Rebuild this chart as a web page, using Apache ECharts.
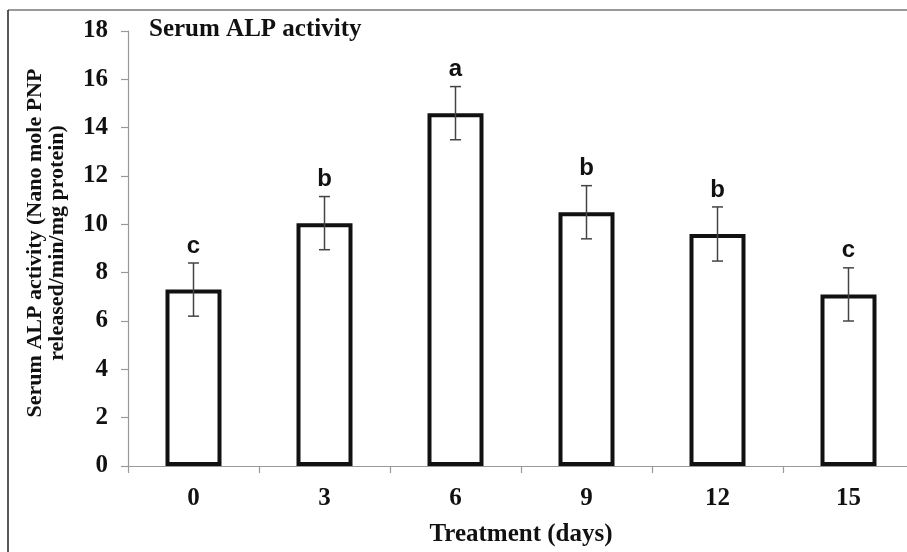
<!DOCTYPE html>
<html>
<head>
<meta charset="utf-8">
<title>Serum ALP activity</title>
<script src="https://cdn.jsdelivr.net/npm/echarts@6/dist/echarts.min.js"></script>
<style>
  html, body { margin: 0; padding: 0; background: #fff; }
  #chart { width: 907px; height: 552px; }
</style>
</head>
<body>
<div id="chart"></div>
<script>
// Treatment days (categories)
const days = ['0', '3', '6', '9', '12', '15'];
// Mean serum ALP activity (nano mole PNP released/min/mg protein)
const alpMean = [7.3, 10.05, 14.6, 10.5, 9.6, 7.1];
// Error (± deviation) for each mean
const alpErr = [1.1, 1.1, 1.1, 1.1, 1.12, 1.1];
// Significance group letters above each bar
const groupLetters = ['c', 'b', 'a', 'b', 'b', 'c'];
// Y axis range and step
const yMin = 0, yMax = 18, yStep = 2;

const serif = '"Liberation Serif", "Times New Roman", serif';
const sans = '"Liberation Sans", Arial, sans-serif';

const chart = echarts.init(document.getElementById('chart'), null, { renderer: 'canvas' });

const errData = days.map((d, i) => [i, alpMean[i], alpErr[i]]);

const option = {
  backgroundColor: '#fff',
  animation: false,
  title: {
    text: 'Serum ALP activity',
    left: 144,
    top: 12,
    textStyle: { fontFamily: serif, fontWeight: 'bold', fontSize: 25, color: '#111' }
  },
  grid: { left: 128, top: 31, width: 786, height: 435, outerBoundsMode: 'none', containLabel: false },
  xAxis: {
    type: 'category',
    data: days,
    axisLine: { lineStyle: { color: '#999', width: 1.2 } },
    axisTick: { show: true, alignWithLabel: false, length: 7, lineStyle: { color: '#999', width: 1.2 } },
    axisLabel: { margin: 20, fontFamily: serif, fontWeight: 'bold', fontSize: 25, color: '#111' },
    name: 'Treatment (days)',
    nameLocation: 'middle',
    nameGap: 56,
    nameTextStyle: { fontFamily: serif, fontWeight: 'bold', fontSize: 25, color: '#111' }
  },
  yAxis: {
    type: 'value',
    min: yMin,
    max: yMax,
    interval: yStep,
    splitLine: { show: false },
    axisLine: { show: true, lineStyle: { color: '#999', width: 1.2 } },
    axisTick: { show: true, inside: false, length: 7, lineStyle: { color: '#999', width: 1.2 } },
    axisLabel: { margin: 20, fontFamily: serif, fontWeight: 'bold', fontSize: 25, color: '#111' }
  },
  graphic: [
    // outer frame (top and left edges)
    { type: 'line', shape: { x1: 8, y1: 10, x2: 907, y2: 10 }, style: { stroke: '#777', lineWidth: 1.5 }, silent: true },
    { type: 'line', shape: { x1: 8, y1: 10, x2: 8, y2: 552 }, style: { stroke: '#222', lineWidth: 1.5 }, silent: true },
    // two-line y axis title
    {
      type: 'text', x: 35, y: 243, rotation: Math.PI / 2,
      style: { text: 'Serum ALP activity (Nano mole PNP', font: 'bold 22px ' + serif, fill: '#111', align: 'center', verticalAlign: 'middle' }
    },
    {
      type: 'text', x: 57, y: 243, rotation: Math.PI / 2,
      style: { text: 'released/min/mg protein)', font: 'bold 22px ' + serif, fill: '#111', align: 'center', verticalAlign: 'middle' }
    }
  ],
  series: [
    {
      type: 'bar',
      data: alpMean,
      barWidth: 56,
      itemStyle: { color: '#fff', borderColor: '#111', borderWidth: 4 },
      z: 2
    },
    {
      type: 'custom',
      data: errData,
      z: 3,
      renderItem: function (params, api) {
        const x = api.value(0);
        const m = api.value(1);
        const e = api.value(2);
        const hi = api.coord([x, m + e]);
        const lo = api.coord([x, m - e]);
        const cap = 5.5;
        const st = { stroke: '#444', lineWidth: 1.5 };
        return {
          type: 'group',
          children: [
            { type: 'line', shape: { x1: hi[0], y1: hi[1], x2: lo[0], y2: lo[1] }, style: st },
            { type: 'line', shape: { x1: hi[0] - cap, y1: hi[1], x2: hi[0] + cap, y2: hi[1] }, style: st },
            { type: 'line', shape: { x1: lo[0] - cap, y1: lo[1], x2: lo[0] + cap, y2: lo[1] }, style: st },
            {
              type: 'text',
              x: hi[0], y: hi[1] - 5,
              style: {
                text: groupLetters[params.dataIndex],
                font: 'bold 24px ' + sans,
                fill: '#111',
                align: 'center',
                verticalAlign: 'bottom'
              }
            }
          ]
        };
      }
    }
  ]
};

chart.setOption(option);
</script>
</body>
</html>
